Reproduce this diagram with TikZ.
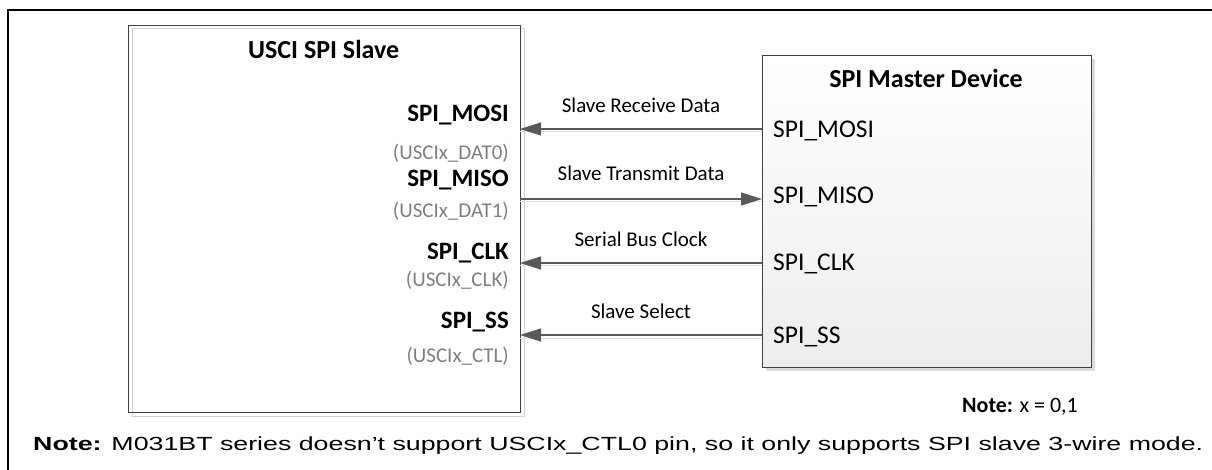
\documentclass[tikz,border=0pt]{standalone}
\usepackage{fontspec}
\setmainfont{Carlito}
\newfontfamily\arialfont{Liberation Sans}
\usetikzlibrary{arrows.meta}
\definecolor{linegray}{HTML}{595959}
\definecolor{txtgray}{HTML}{7F7F7F}
\definecolor{boxline}{HTML}{404040}
\tikzset{
  devbox/.style={draw=boxline, line width=0.9pt, anchor=north west, inner sep=0pt},
  boxshade/.style={draw=black!18, line width=1pt},
  sig/.style={draw=linegray, line width=1.1pt, -{Triangle[length=21pt,width=13pt]}},
  sigshade/.style={draw=black!12, line width=1pt},
  pinbold/.style={font=\bfseries\fontsize{25}{28}\selectfont, anchor=base east, inner sep=0pt},
  pingray/.style={font=\fontsize{21}{24}\selectfont, text=txtgray, anchor=base east, inner sep=0pt},
  mpin/.style={font=\fontsize{25.5}{28}\selectfont, anchor=base west, inner sep=0pt},
  siglabel/.style={font=\fontsize{21}{24}\selectfont, anchor=base, inner sep=0pt},
  title/.style={font=\bfseries\fontsize{26}{29}\selectfont, inner sep=0pt}
}
\begin{document}
\begin{tikzpicture}[x=1pt,y=-1pt]
\useasboundingbox (0,0) rectangle (1212,470);
% outer frame (only top and left visible)
\draw[line width=2pt] (8,470) -- (8,10) -- (1212,10);

% slave box
\draw[boxshade] (132,29) rectangle (524,416);
\node[devbox, minimum width=392pt, minimum height=387pt] (slave) at (128,25) {};
\node[title, anchor=base west] (stitle) at (248,59) {USCI SPI Slave};

% master box
\fill[black!14] (766,59) rectangle (1095,371);
\node[devbox, top color=white, bottom color=black!7, minimum width=329pt, minimum height=312pt] (master) at (762,55) {};
\node[title, anchor=base] (mtitle) at (926,88) {SPI Master Device};

% slave pin labels
\node[pinbold] (s1) at (509,122) {SPI\_MOSI};
\node[pingray] (s1g) at (509,160) {(USCIx\_DAT0)};
\node[pinbold] (s2) at (509,187) {SPI\_MISO};
\node[pingray] (s2g) at (509,218) {(USCIx\_DAT1)};
\node[pinbold] (s3) at (509,259) {SPI\_CLK};
\node[pingray] (s3g) at (509,287) {(USCIx\_CLK)};
\node[pinbold] (s4) at (509,328) {SPI\_SS};
\node[pingray] (s4g) at (509,362) {(USCIx\_CTL)};

% master pin labels
\node[mpin] (m1) at (773,138) {SPI\_MOSI};
\node[mpin] (m2) at (773,204) {SPI\_MISO};
\node[mpin] (m3) at (773,270) {SPI\_CLK};
\node[mpin] (m4) at (773,343) {SPI\_SS};

% port coordinates
\coordinate (sp1) at (520,129); \coordinate (mp1) at (762,129);
\coordinate (sp2) at (520,199); \coordinate (mp2) at (762,199);
\coordinate (sp3) at (520,263); \coordinate (mp3) at (762,263);
\coordinate (sp4) at (520,335); \coordinate (mp4) at (762,335);

% connector shadows
\draw[sigshade] ([yshift=-3pt]sp1) -- ([yshift=-3pt]mp1);
\draw[sigshade] ([yshift=-3pt]sp2) -- ([yshift=-3pt]mp2);
\draw[sigshade] ([yshift=-3pt]sp3) -- ([yshift=-3pt]mp3);
\draw[sigshade] ([yshift=-3pt]sp4) -- ([yshift=-3pt]mp4);

% connectors
\draw[sig] (mp1) -- (sp1);
\draw[sig] (sp2) -- (mp2);
\draw[sig] (mp3) -- (sp3);
\draw[sig] (mp4) -- (sp4);

% connector labels
\node[siglabel] (l1) at (641,113) {Slave Receive Data};
\node[siglabel] (l2) at (641,181) {Slave Transmit Data};
\node[siglabel] (l3) at (641,247) {Serial Bus Clock};
\node[siglabel] (l4) at (641,318) {Slave Select};

% notes
\node[font=\fontsize{22}{25}\selectfont, anchor=base west, inner sep=0pt] (note1) at (962,412) {\textbf{Note:} x = 0,1};
\node[font=\arialfont\fontsize{19}{22}\selectfont, anchor=base west, inner sep=0pt] (note2) at (33,450) {\resizebox{1170pt}{\height}{\textbf{Note:} M031BT series doesn’t support USCIx\_CTL0 pin, so it only supports SPI slave 3-wire mode.}};
\end{tikzpicture}
\end{document}
